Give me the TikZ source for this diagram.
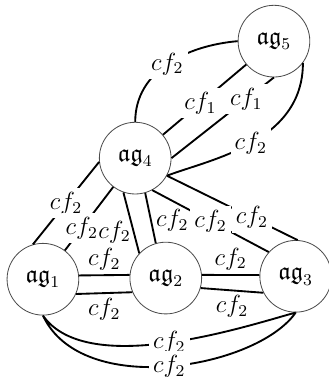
\documentclass[tikz,border=0pt]{standalone}
\usepackage{amssymb}
\usepackage{tikz}

\begin{document}
\begin{tikzpicture}[
        agent/.style={circle, draw=black!70, line width=0.4pt, minimum size=1.22cm, inner sep=0pt, font=\large},
        link/.style={line width=0.9pt},
        every node/.append style={font=\large},
        gap/.style={fill=white, inner sep=2pt}
    ]
    \useasboundingbox (0, 0) rectangle (5.58, 6.43);
    % agents
    \node[agent] (ag5) at (4.66, 5.73) {$\mathfrak{ag}_5$};
    \node[agent] (ag4) at (2.30, 3.74) {$\mathfrak{ag}_4$};
    \node[agent] (ag1) at (0.73, 1.68) {$\mathfrak{ag}_1$};
    \node[agent] (ag2) at (2.82, 1.70) {$\mathfrak{ag}_2$};
    \node[agent] (ag3) at (5.03, 1.73) {$\mathfrak{ag}_3$};
    % ag5 -- ag4
    \draw[link]
    (ag5.west) to[out=185, in=90] node[gap] {$cf_2$} (ag4.north)
    (ag5) -- node[gap, pos=0.55] {$cf_1$} (ag4)
    (ag5.south) -- node[gap, pos=0.27] {$cf_1$} (ag4.east)
    (ag5.-37) to[out=-90, in=21, out distance=1.36cm, in distance=0.77cm] node[gap] {$cf_2$} (ag4.-29);
    % ag4 -- bottom row
    \draw[link]
    (ag4.186) -- node[gap] {$cf_2$} (ag1.106)
    (ag4) -- node[gap, pos=0.65] {$cf_2$} (ag1)
    (ag4.251) -- node[left, pos=0.65, inner sep=1pt] {$cf_2$} (ag2.137)
    (ag4.286) -- node[right, pos=0.55, inner sep=2pt] {$cf_2$} (ag2.106)
    (ag4.-29) -- node[gap, pos=0.65] {$cf_2$} (ag3.87)
    (ag4.-62) -- node[gap] {$cf_2$} (ag3.138);
    % bottom row
    \draw[link]
    (ag1.6) -- node[above, inner sep=2pt] {$cf_2$} (ag2.175)
    (ag1.-24) -- node[below, inner sep=2pt] {$cf_2$} (ag2.203)
    (ag2.5) -- node[above, inner sep=2pt] {$cf_2$} (ag3.178)
    (ag2.-16) -- node[below, inner sep=2pt] {$cf_2$} (ag3.207)
    (ag1.south) to[out=-55, in=195, out distance=1.33cm, in distance=0.79cm] node[gap] {$cf_2$} (ag3.south)
    (ag1.south) to[out=-65, in=-125, out distance=1.57cm, in distance=1.16cm] node[gap] {$cf_2$} (ag3.south);
\end{tikzpicture}
\end{document}
